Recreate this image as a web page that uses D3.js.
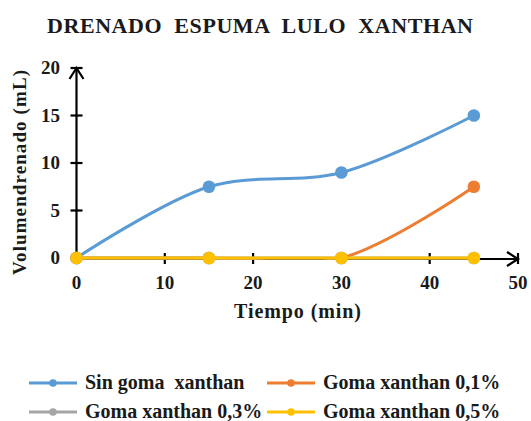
<!DOCTYPE html>
<html>
<head>
<meta charset="utf-8">
<script src="https://cdn.jsdelivr.net/npm/d3@7"></script>
<style>
  body { margin: 0; background: #fff; }
</style>
</head>
<body>
<div id="main"></div>
<script>
var tiempo = [0, 15, 30, 45];
var sinGoma = [0, 7.5, 9, 15];
var goma01 = [0, 0, 0, 7.5];
var goma03 = [0, 0, 0, 0];
var goma05 = [0, 0, 0, 0];
var seriesNames = ['Sin goma  xanthan', 'Goma xanthan 0,1%', 'Goma xanthan 0,3%', 'Goma xanthan 0,5%'];
var seriesColors = ['#5b9bd5', '#ed7d31', '#a5a5a5', '#ffc000'];
var xTicks = [0, 10, 20, 30, 40, 50];
var yTicks = [0, 5, 10, 15, 20];

var width = 531, height = 421;
var svg = d3.select('#main').append('svg').attr('width', width).attr('height', height);

var x = d3.scaleLinear().domain([0, 50]).range([76.5, 518]);
var y = d3.scaleLinear().domain([0, 20]).range([258, 68]);

function addText(sel) {
  return sel.append('text')
    .style('font-family', "'Liberation Serif'")
    .attr('font-weight', 'bold')
    .attr('fill', '#1a1a1a');
}

// title
addText(svg)
  .attr('x', 47).attr('y', 33)
  .attr('font-size', 22)
  .attr('textLength', 426)
  .attr('lengthAdjust', 'spacing')
  .style('white-space', 'pre')
  .text('DRENADO  ESPUMA  LULO  XANTHAN');

// axes
var axisG = svg.append('g').attr('stroke', '#000').attr('stroke-width', 2.2).attr('fill', 'none');
axisG.append('line').attr('x1', x(0)).attr('x2', x(50)).attr('y1', y(0) + 1).attr('y2', y(0) + 1);
axisG.append('line').attr('x1', x(0)).attr('x2', x(0)).attr('y1', y(0)).attr('y2', y(20));
// arrow heads
axisG.append('path').attr('d', 'M' + (x(50) - 11) + ',' + (y(0) - 6) + 'L' + x(50) + ',' + (y(0) + 1) + 'L' + (x(50) - 11) + ',' + (y(0) + 8));
axisG.append('path').attr('d', 'M' + (x(0) - 7) + ',' + (y(20) + 11) + 'L' + x(0) + ',' + y(20) + 'L' + (x(0) + 7) + ',' + (y(20) + 11));

// tick marks crossing axes
xTicks.forEach(function (t) {
  if (t === 0) return;
  axisG.append('line').attr('x1', x(t)).attr('x2', x(t)).attr('y1', y(0) - 5).attr('y2', y(0) + 6);
});
yTicks.forEach(function (t) {
  if (t === 0) return;
  axisG.append('line').attr('x1', x(0) - 6).attr('x2', x(0) + 6).attr('y1', y(t)).attr('y2', y(t));
});

// tick labels
xTicks.forEach(function (d) {
  addText(svg).attr('x', x(d)).attr('y', y(0) + 31)
    .attr('text-anchor', 'middle').attr('font-size', 19).text(d);
});
yTicks.forEach(function (d) {
  addText(svg).attr('x', 60).attr('y', y(d) + 6)
    .attr('text-anchor', 'end').attr('font-size', 19).text(d);
});

// axis titles
addText(svg)
  .attr('x', 234).attr('y', 318)
  .attr('font-size', 20)
  .attr('textLength', 127).attr('lengthAdjust', 'spacing')
  .text('Tiempo (min)');
addText(svg)
  .attr('transform', 'translate(26,275) rotate(-90)')
  .attr('font-size', 19)
  .attr('textLength', 205).attr('lengthAdjust', 'spacing')
  .text('Volumendrenado (mL)');

// series, clipped to the plot area
svg.append('clipPath').attr('id', 'plot')
  .append('rect').attr('x', 0).attr('y', 40).attr('width', width).attr('height', y(0) + 2 - 40);

var allSeries = [sinGoma, goma01, goma03, goma05];
var lineGen = d3.line()
  .x(function (d) { return x(d[0]); })
  .y(function (d) { return y(d[1]); })
  .curve(d3.curveCatmullRom.alpha(0.5));

allSeries.forEach(function (vals, i) {
  var pts = tiempo.map(function (t, j) { return [t, vals[j]]; });
  svg.append('path')
    .datum(pts)
    .attr('clip-path', 'url(#plot)')
    .attr('fill', 'none')
    .attr('stroke', seriesColors[i])
    .attr('stroke-width', 3)
    .attr('d', lineGen);
  svg.selectAll('.pt' + i).data(pts).enter().append('circle')
    .attr('cx', function (d) { return x(d[0]); })
    .attr('cy', function (d) { return y(d[1]); })
    .attr('r', 6.3)
    .attr('fill', seriesColors[i]);
});

// legend
var legendPos = [[29, 383], [267, 383], [29, 412], [267, 412]];
seriesNames.forEach(function (name, i) {
  var g = svg.append('g').attr('transform', 'translate(' + legendPos[i][0] + ',' + legendPos[i][1] + ')');
  g.append('line').attr('x1', 0).attr('x2', 48).attr('y1', 0).attr('y2', 0)
    .attr('stroke', seriesColors[i]).attr('stroke-width', 3);
  g.append('circle').attr('cx', 24).attr('cy', 0).attr('r', 3.8).attr('fill', seriesColors[i]);
  addText(g).attr('x', 56).attr('y', 6).attr('font-size', 20)
    .style('white-space', 'pre')
    .text(name);
});
</script>
</body>
</html>
